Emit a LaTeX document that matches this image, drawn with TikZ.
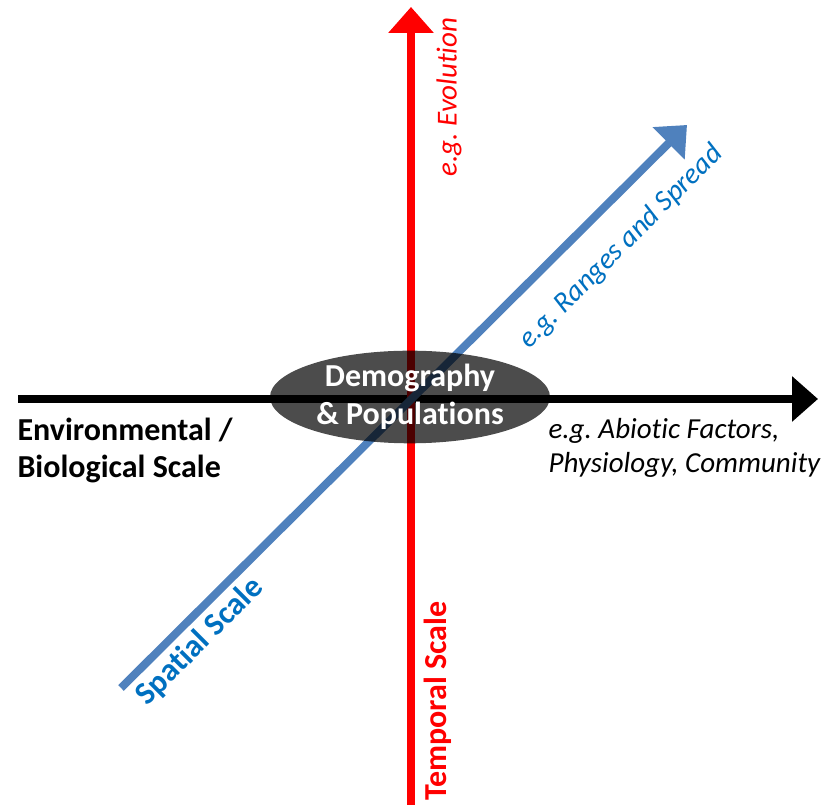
\documentclass[tikz,border=0pt]{standalone}
\usepackage{fontspec}
\setmainfont{Carlito}[Ligatures=NoCommon]
\usepackage{xcolor}
\usepackage{tikz}
\usetikzlibrary{arrows.meta, shapes.geometric, positioning}

\definecolor{axisred}{RGB}{255,0,0}
\definecolor{axisblue}{RGB}{79,129,189}
\definecolor{textblue}{RGB}{0,112,192}

\begin{document}
\frenchspacing
\begin{tikzpicture}[
  x=1pt, y=1pt,
  axis/.style={line width=8pt, -{Triangle[length=26pt, width=44pt]}},
  core/.style={ellipse, fill=black, fill opacity=0.7, text opacity=1, text=white,
               minimum width=280pt, minimum height=90pt, inner sep=0pt,
               align=center, font=\bfseries\fontsize{32}{38}\selectfont},
  scalelabel/.style={font=\bfseries\fontsize{32}{37}\selectfont, align=left},
  example/.style={font=\itshape\fontsize{29}{34}\selectfont, align=left}
]
\useasboundingbox (0,0) rectangle (833,805);

% axis end points
\coordinate (west) at (18,406);
\coordinate (east) at (818,406);
\coordinate (south) at (411,0);
\coordinate (north) at (411,798);
\coordinate (sw) at (121,117);
\coordinate (ne) at (687,680);

% the three axes
\draw[axis, black] (west) -- (east);
\draw[axis, axisred] (south) -- (north);
\draw[axis, axisblue] (sw) -- (ne);

% centre
\node[core] (demo) at (410,408) {Demography\\\& Populations};

% axis labels
\node[scalelabel, anchor=west] (env) at (14,355) {Environmental /\\Biological Scale};
\node[example, anchor=west] (abiotic) at (545,357) {e.g. Abiotic Factors,\\Physiology, Community};
\node[example, text=axisred, rotate=90] (evol) at (449,708) {e.g. Evolution};
\node[scalelabel, text=axisred, rotate=90] (temporal) at (438,104) {Temporal Scale};
\node[example, text=textblue, rotate=45] (ranges) at (621,558) {e.g. Ranges and Spread};
\node[scalelabel, text=textblue, rotate=45] (spatial) at (200,163) {Spatial Scale};
\end{tikzpicture}
\end{document}
